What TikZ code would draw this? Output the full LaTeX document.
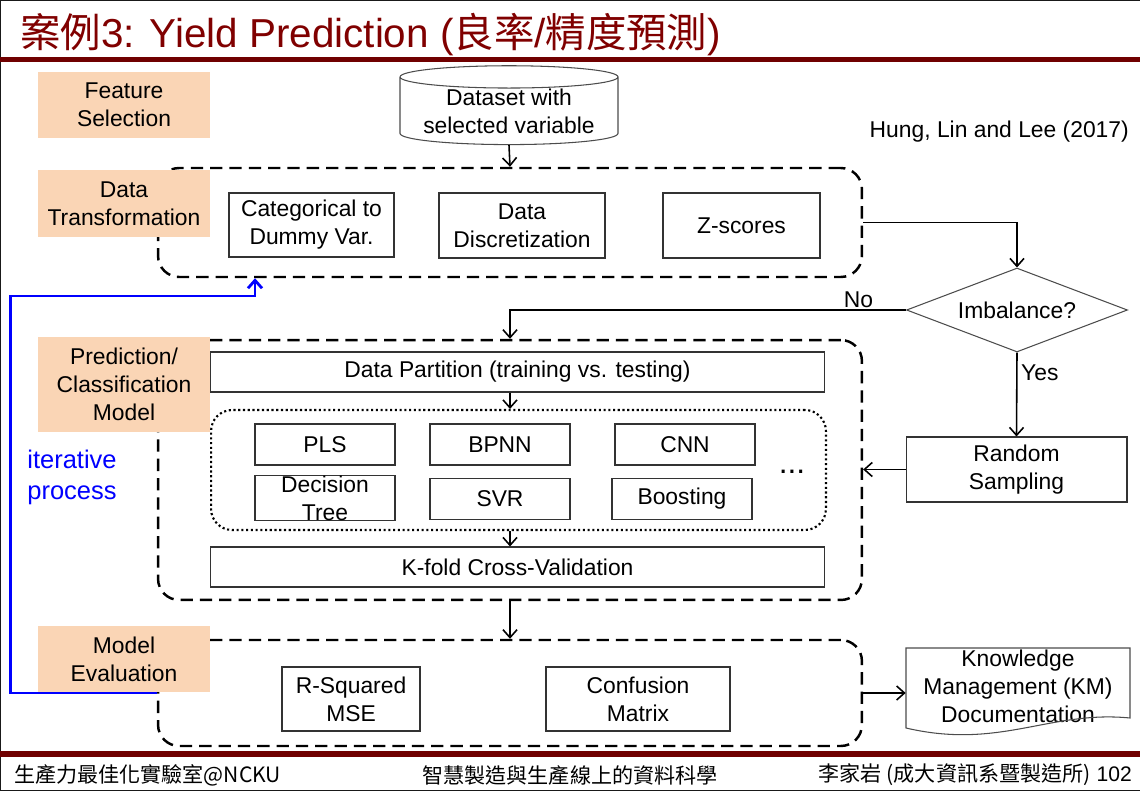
\documentclass[tikz,border=0pt]{standalone}
\usepackage{fontspec}
\setmainfont{Liberation Sans}
\newfontfamily\cjk{Noto Sans CJK TC}
\usetikzlibrary{shapes,arrows,arrows.meta}
\definecolor{peach}{RGB}{250,213,181}
\definecolor{slidered}{RGB}{112,0,0}
\definecolor{titlered}{RGB}{128,0,0}
\tikzstyle{stage} = [rectangle, fill=peach, text width=3.3cm, align=center,
    minimum width=3.44cm, inner sep=0pt]
\tikzstyle{group} = [rectangle, draw, dash pattern=on 7pt off 4pt, line width=1.4pt,
    rounded corners=12pt, minimum width=14.08cm]
\tikzstyle{block} = [rectangle, draw=black!80, line width=0.6pt, align=center, inner sep=0pt]
\tikzstyle{algo} = [block, minimum width=2.8cm, minimum height=0.82cm]
\tikzstyle{line} = [draw, -{Straight Barb[length=4.5pt, width=8pt]}, line width=0.9pt]
\tikzstyle{iter} = [draw, -{Straight Barb[length=4.5pt, width=8pt]}, blue, line width=1.6pt]

\begin{document}
\begin{tikzpicture}[x=0.02cm, y=-0.02cm, font=\fontsize{13}{16}\selectfont]
	\useasboundingbox (0,0) rectangle (1140,791);
	\draw[black!90, line width=0.8pt] (1140,0.4) -- (0.4,0.4) -- (0.4,790.6) -- (1140,790.6);

	% title and footer
	\node[anchor=base west, text=titlered, font=\fontsize{23}{28}\selectfont] (title) at (14,48)
		{{\cjk 案例}3: Yield Prediction ({\cjk 良率}/{\cjk 精度預測})};
	\fill[slidered] (0,57) rectangle (1140,62);
	\fill[slidered] (0,751) rectangle (1140,757);
	\node[anchor=west, font=\cjk\fontsize{12}{14}\selectfont] (lab) at (8,775) {生產力最佳化實驗室@NCKU};
	\node[font=\cjk\fontsize{12}{14}\selectfont] (course) at (570,775) {智慧製造與生產線上的資料科學};
	\node[anchor=east, font=\fontsize{12}{14}\selectfont] (author) at (1138,775) {{\cjk 李家岩 (成大資訊系暨製造所)} 102};

	% dashed groups
	\node[group, minimum height=2.18cm] (g1) at (510,222.5) {};
	\node[group, minimum height=5.2cm] (g2) at (510,470) {};
	\node[group, minimum height=2.12cm] (g3) at (510,693) {};

	% stages
	\node[stage, minimum height=1.32cm] (feat) at (124,105) {Feature\\Selection};
	\node[stage, minimum height=1.34cm] (trans) at (124,203.5) {Data\\Transformation};
	\node[stage, minimum height=1.9cm] (pred) at (124,384.5) {Prediction/\\Classification\\Model};
	\node[stage, minimum height=1.32cm] (evalm) at (124,659) {Model\\Evaluation};

	\node[cylinder, shape border rotate=90, aspect=0.13, draw=black!70, line width=0.6pt,
		minimum width=4.36cm, minimum height=1.18cm, align=center, inner sep=0pt] (data) at (509,111)
		{Dataset with\\selected variable};
	\node[anchor=east] (ref) at (1135,132) {Hung, Lin and Lee (2017)};

	% transformation
	\node[block, minimum width=3.3cm, minimum height=1.28cm] (dummy) at (311.5,225) {Categorical to\\Dummy Var.};
	\node[block, minimum width=3.32cm, minimum height=1.3cm] (disc) at (522,225.5) {Data\\Discretization};
	\node[block, minimum width=3.14cm, minimum height=1.3cm] (zsc) at (741.5,225.5) {Z-scores};

	\node[diamond, aspect=2.63, draw=black!70, line width=0.6pt, minimum width=4.42cm, minimum height=1.68cm,
		inner sep=0pt] (imb) at (1017,310) {Imbalance?};
	\node[block, minimum width=4.42cm, minimum height=1.3cm] (rand) at (1016.5,469.5) {Random\\Sampling};

	% model
	\node[block, minimum width=12.3cm, minimum height=0.8cm] (part) at (517.5,372) {Data Partition (training vs. testing)};
	\node[draw, dash pattern=on 1.2pt off 1.5pt, line width=1.2pt, rounded corners=12pt,
		minimum width=12.3cm, minimum height=2.4cm] (algs) at (518.5,470) {};
	\node[algo] (pls) at (325,444.5) {PLS};
	\node[algo] (bpnn) at (500,444.5) {BPNN};
	\node[algo] (cnn) at (685,444.5) {CNN};
	\node[algo, minimum height=0.8cm] (tree) at (325,498) {Decision\\Tree};
	\node[algo] (svr) at (500,499) {SVR};
	\node[algo] (boost) at (682,499) {Boosting};
	\node[font=\fontsize{18}{18}\selectfont] (more) at (792,472) {...};
	\node[block, minimum width=12.3cm, minimum height=0.8cm] (kfold) at (517.5,567) {K-fold Cross-Validation};

	% evaluation
	\node[block, minimum width=2.76cm, minimum height=1.28cm] (rsq) at (351,699) {R-Squared\\MSE};
	\node[block, minimum width=3.68cm, minimum height=1.28cm] (conf) at (638,699) {Confusion\\Matrix};
	\node[minimum width=4.48cm, align=center, inner sep=0pt] (km) at (1018,686)
		{Knowledge\\Management (KM)\\Documentation};
	\draw[black!70, line width=0.6pt] (906,648) -- (1130,648) -- (1130,718)
		.. controls (1050,710) and (1000,750) .. (906,728) -- cycle;

	% connectors
	\path [line] (data.south) -- (g1.north);
	\path [line] (g1.east) -| (imb.north);
	\path [line] (imb.west) -| node[pos=0.06, above, inner sep=1pt] {No} (g2.north);
	\path [line] (imb.south) -- node[right, pos=0.24, inner sep=2pt] {Yes} (rand.north);
	\path [line] (rand.west) -- (rand.west -| g2.east);
	\path [line] (part.south -| g2.north) -- (algs.north -| g2.north);
	\path [line] (algs.south -| g2.north) -- (kfold.north -| g2.north);
	\path [line] (g2.south) -- (g3.north);
	\path [line] (g3.east) -- (g3.east -| km.west);

	% feedback loop
	\coordinate (back) at (255,296);
	\path [iter] (g3.west) -- ++(-146,0) |- (back) -- (back |- g1.south);
	\node[text=blue, align=left, font=\fontsize{14.5}{17.6}\selectfont] (iterlbl) at (72,477) {iterative\\process};
\end{tikzpicture}
\end{document}
